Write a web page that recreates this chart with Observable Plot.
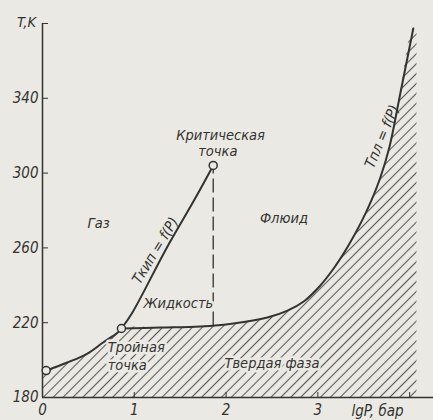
<!DOCTYPE html>
<html>
<head>
<meta charset="utf-8">
<script src="https://cdn.jsdelivr.net/npm/d3@7"></script>
<script src="https://cdn.jsdelivr.net/npm/@observablehq/plot@0.6"></script>
<style>
  html, body { margin: 0; padding: 0; background: #eae9e4; }
  #chart svg { display: block; }
</style>
</head>
<body>
<div id="chart"></div>
<script>
// ---- data (lg P in bar, T in K) ----
const sublimationP = [0.04, 0.27, 0.49, 0.66, 0.82, 0.86];
const sublimationT = [194.4, 198.7, 203.5, 209.4, 214.8, 216.9];

const boilingP = [0.86, 0.98, 1.35, 1.65, 1.86];
const boilingT = [216.9, 225.5, 259.7, 285.3, 304.1];

const meltingP = [0.86, 1.29, 1.72, 2.08, 2.45, 2.67, 2.85, 3.02, 3.18, 3.33, 3.47, 3.58, 3.68, 3.78, 3.90, 4.04];
const meltingT = [216.9, 217.4, 218.0, 219.6, 222.8, 226.5, 231.5, 239.5, 249.5, 261.0, 273.5, 285.0, 297.5, 314.0, 343.0, 377.3];

const triplePoint = {p: 0.86, t: 216.9};
const criticalPoint = {p: 1.86, t: 304.1};
const sublimationStart = {p: 0.04, t: 194.4};
const criticalDashBottomT = 218.3;
const solidEdgeP = 4.08;

const xTicks = [0, 1, 2, 3, 4];
const xTickLabels = ["0", "1", "2", "3", ""];
const yTicks = [180, 220, 260, 300, 340, 380];
const yTickLabels = ["180", "220", "260", "300", "340", ""];

const regionLabels = ["Газ", "Флюид", "Жидкость", "Твердая фаза"];
const regionLabelP = [0.61, 2.63, 1.48, 2.50];
const regionLabelT = [273.0, 275.7, 230.3, 198.2];

const criticalLabels = ["Критическая", "точка"];
const criticalLabelP = [1.94, 1.91];
const criticalLabelT = [320.0, 311.8];

const tripleLabels = ["Тройная", "точка"];
const tripleLabelP = [0.71, 0.71];
const tripleLabelT = [206.7, 197.1];

const curveLabels = ["Tкип = f(P)", "Tпл = f(P)"];
const curveLabelP = [1.23, 3.70];
const curveLabelT = [258.5, 319.6];
const curveLabelAngle = [-58.6, -67.4];

// ---- tables built from the arrays ----
const zip = (ps, ts) => ps.map((p, i) => ({p, t: ts[i]}));
const sublimation = zip(sublimationP, sublimationT);
const boiling = zip(boilingP, boilingT);
const melting = zip(meltingP, meltingT);
const solid = [{p: 0, t: sublimationT[0]}, ...sublimation, ...melting.slice(1),
               {p: solidEdgeP, t: meltingT[meltingT.length - 1]}];
const label = (ss, ps, ts) => ss.map((s, i) => ({s, p: ps[i], t: ts[i]}));
const regions = label(regionLabels, regionLabelP, regionLabelT);
const critTxt = label(criticalLabels, criticalLabelP, criticalLabelT);
const tripTxt = label(tripleLabels, tripleLabelP, tripleLabelT);
const curvesTxt = curveLabels.map((s, i) => ({s, p: curveLabelP[i], t: curveLabelT[i], r: curveLabelAngle[i]}));

const ink = "#333330";
const bg = "#eae9e4";
const font = "'DejaVu Sans Condensed', 'DejaVu Sans', sans-serif";
const knock = {fill: ink, stroke: bg, strokeWidth: 5, paintOrder: "stroke"};

const plot = Plot.plot({
  width: 433,
  height: 420,
  marginLeft: 42,
  marginRight: 0,
  marginTop: 23,
  marginBottom: 23,
  style: {background: bg, color: ink, fontFamily: font, fontStyle: "italic", fontSize: "14.5px"},
  x: {domain: [0, 4.26]},
  y: {domain: [180, 380]},
  marks: [
    Plot.areaY(solid, {x: "p", y1: 180, y2: "t", fill: "url(#hatch)", curve: "catmull-rom"}),
    Plot.ruleY([180], {stroke: ink, strokeWidth: 1.5}),
    Plot.ruleX([0], {y1: 180, y2: 380, stroke: ink, strokeWidth: 1.5}),
    Plot.axisX({ticks: xTicks, tickFormat: d => xTickLabels[xTicks.indexOf(d)], tickSize: -5, tickPadding: 12, stroke: ink, label: null, fontSize: 15}),
    Plot.axisY({ticks: yTicks, tickFormat: d => yTickLabels[yTicks.indexOf(d)], tickSize: -6, tickPadding: 10, stroke: ink, label: null, fontSize: 15}),
    Plot.text(["T,K"], {frameAnchor: "top-left", dx: -16, dy: -7, textAnchor: "middle", fontSize: 14.5}),
    Plot.text(["lgP, бар"], {x: 3.65, y: 180, dy: 14, fontSize: 15}),
    Plot.ruleX([criticalPoint], {x: "p", y1: criticalDashBottomT, y2: "t", stroke: ink, strokeWidth: 1.3, strokeDasharray: "14,5"}),
    Plot.line(sublimation, {x: "p", y: "t", stroke: ink, strokeWidth: 2, curve: "catmull-rom"}),
    Plot.line(boiling, {x: "p", y: "t", stroke: ink, strokeWidth: 2, curve: "catmull-rom"}),
    Plot.line(melting, {x: "p", y: "t", stroke: ink, strokeWidth: 2, curve: "catmull-rom"}),
    Plot.dot([triplePoint, criticalPoint, sublimationStart], {x: "p", y: "t", r: 4, fill: bg, stroke: ink, strokeWidth: 1.5}),
    Plot.text(regions, {x: "p", y: "t", text: "s", ...knock}),
    Plot.text(critTxt, {x: "p", y: "t", text: "s", ...knock}),
    Plot.text(tripTxt, {x: "p", y: "t", text: "s", textAnchor: "start", ...knock}),
    Plot.text(curvesTxt, {x: "p", y: "t", text: "s", rotate: "r", fill: ink})
  ]
});

const svg = d3.select(plot);
const defs = svg.insert("defs", ":first-child");
const pat = defs.append("pattern")
  .attr("id", "hatch")
  .attr("patternUnits", "userSpaceOnUse")
  .attr("width", 7).attr("height", 7)
  .attr("patternTransform", "rotate(45)");
pat.append("line")
  .attr("x1", 3.5).attr("y1", -1).attr("x2", 3.5).attr("y2", 8)
  .attr("stroke", "#5a5a56").attr("stroke-width", 1.1);

document.getElementById("chart").appendChild(plot);
</script>
</body>
</html>
